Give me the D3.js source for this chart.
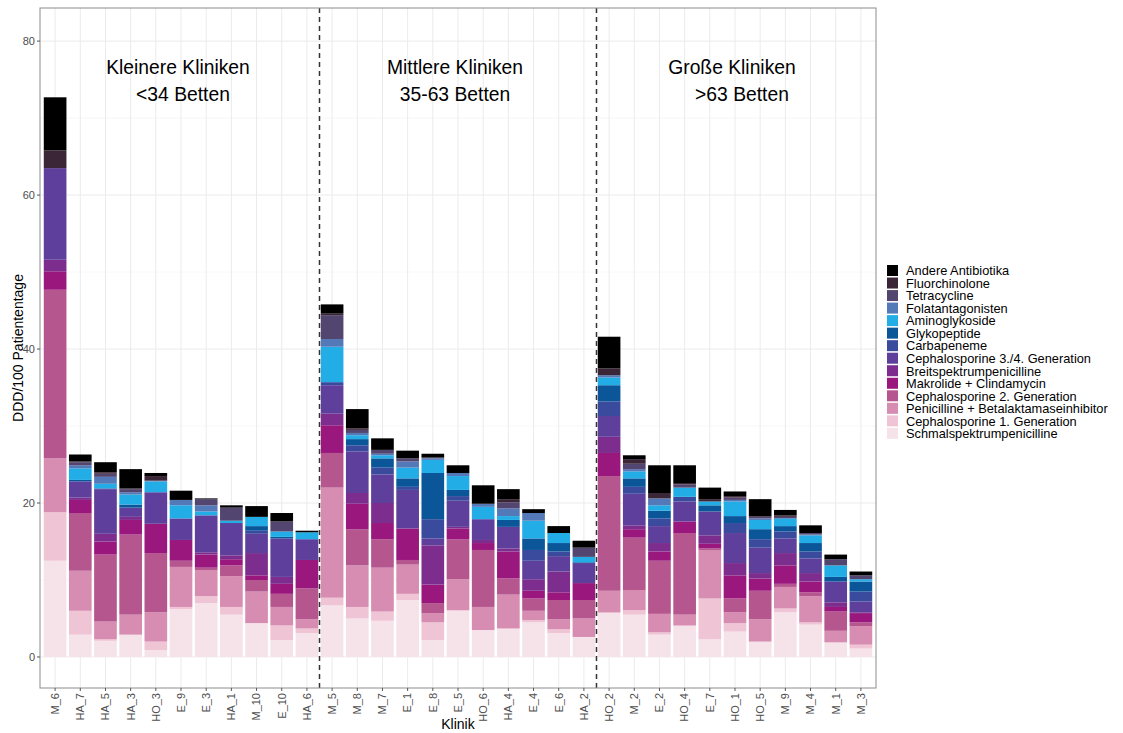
<!DOCTYPE html>
<html>
<head>
<meta charset="utf-8">
<script src="https://cdn.jsdelivr.net/npm/d3@7"></script>
<style>
  html, body { margin: 0; padding: 0; background: #fff; }
  svg { display: block; font-family: "Liberation Sans", Arial, sans-serif; }
</style>
</head>
<body>
<div id="app"></div>
<script>
// Kliniken in Reihenfolge der x-Achse
const clinics = ["M_6","HA_7","HA_5","HA_3","HO_3","E_9","E_3","HA_1","M_10","E_10","HA_6",
  "M_5","M_8","M_7","E_1","E_8","E_5","HO_6","HA_4","E_4","E_6","HA_2",
  "HO_2","M_2","E_2","HO_4","E_7","HO_1","HO_5","M_9","M_4","M_1","M_3"];

// Substanzklassen, von unten nach oben gestapelt
const categories = ["Schmalspektrumpenicilline","Cephalosporine 1. Generation","Penicilline + Betalaktamaseinhibitor",
  "Cephalosporine 2. Generation","Makrolide + Clindamycin","Breitspektrumpenicilline",
  "Cephalosporine 3./4. Generation","Carbapeneme","Glykopeptide","Aminoglykoside",
  "Folatantagonisten","Tetracycline","Fluorchinolone","Andere Antibiotika"];

const colors = ["#f6e3ea","#efc4d4","#d78cb2","#b5568f","#9a187e","#7c2d8d",
  "#5e3f9b","#3a4b9e","#0b5599","#22ade7","#5479b8","#524670","#3b2637","#000000"];

// DDD/100 Patiententage je Klasse (gleiche Reihenfolge wie clinics)
const schmal = [12.5,2.9,2.1,2.9,0.9,6.2,7.0,5.5,4.4,2.2,3.1,6.7,5.0,4.7,7.4,2.2,6.0,3.5,3.7,4.5,3.1,2.6,5.7,5.5,2.9,4.0,2.3,3.3,2.0,5.8,4.2,1.9,1.1];
const ceph1  = [6.3,3.1,0.2,0,1.1,0.3,0.9,1.0,0,1.9,0.6,1.0,1.5,1.2,0.8,2.3,0.1,0,0,0.3,0.5,0,0.1,0.6,0.3,0.1,5.3,1.1,0,0.5,0.3,0,0.5];
const penBli = [7.0,5.2,2.3,2.6,3.8,5.2,3.4,4.0,4.1,2.4,1.2,14.3,5.4,5.7,3.8,1.2,4.0,3.0,4.4,1.2,1.3,2.4,2.8,2.6,2.4,1.4,6.3,1.4,2.9,2.8,3.4,1.5,2.4];
const ceph2  = [21.9,7.5,8.7,10.4,7.7,0.8,0.3,1.4,1.5,1.7,4.0,4.5,4.7,3.7,0.6,1.3,5.2,7.4,2.1,1.6,2.5,2.4,14.9,6.8,6.9,10.6,0.2,1.8,3.7,0.4,0.5,2.5,0.5];
const makro  = [2.4,1.7,1.7,1.9,3.8,2.7,1.7,0.8,0.6,1.3,3.7,3.6,3.3,2.1,4.1,2.4,1.4,0.9,3.5,1.0,1.0,2.2,3.0,1.1,1.2,1.5,0.6,3.0,1.6,2.4,1.4,0.6,1.2];
const breit  = [1.5,0.3,1.0,0.4,0,0,0.3,0.5,2.9,0.9,0,1.5,1.4,2.6,0,5.1,0.2,0.4,0.4,1.5,2.7,0,2.1,0.5,1.1,0,1.1,1.6,0.7,1.6,1.1,0.6,0.1];
const ceph34 = [11.9,2.1,5.8,1.2,4.1,2.8,4.8,4.2,2.5,5.0,2.7,3.7,5.4,3.7,5.0,0.9,3.4,2.7,2.8,2.4,2.0,2.6,2.7,4.1,2.2,2.6,3.1,3.9,3.3,1.9,1.9,2.7,1.4];
const carba  = [0,0,0.1,0,0,0,0,0,0.4,0,0,0.4,0.8,0.9,0.4,2.5,0.6,0,0,1.4,0.6,0,1.9,0.9,1.0,0.6,0,1.3,1.1,0.9,0.9,0,1.3];
const glyko  = [0,0.2,0,0.4,0,0,0,0,0.6,0.2,0,0,0.8,1.2,1.1,6.0,0.8,0,0.9,1.5,1.1,0.1,2.1,1.1,1.0,0,0.8,0.9,1.3,0.7,1.1,0.6,1.3];
const amino  = [0,1.5,0.6,1.3,1.4,1.7,0.5,0.3,1.2,0.7,0.9,4.6,0.5,0.4,1.4,1.7,1.8,1.6,0.5,2.3,1.3,0.7,1.0,0.9,0.7,1.2,0.5,1.9,1.2,1.0,1.0,1.5,0.3];
const folat  = [0,0.4,0.9,0.3,0.1,0.7,0.8,0,0,0,0,1.0,0.3,0.2,0.8,0.2,0.4,0.4,1.0,1.0,0,0,0.3,0.3,0.9,0,0,0.2,0.2,0,0.1,0,0];
const tetra  = [0,0.4,0.4,0.4,0,0,0.8,1.7,0,1.3,0,3.1,0.4,0.5,0.4,0.1,0,0,0.8,0,0,1.2,0,0.7,0,0.4,0,0.3,0.2,0.2,0.2,0.8,0.5];
const fluor  = [2.3,0.1,0.2,0.1,0.6,0,0,0,0,0,0,0.2,0.2,0,0,0,0,0,0.4,0,0,0,0.9,0.6,0.7,0.2,0.3,0.2,0.1,0.2,0,0,0];
const andere = [6.9,0.9,1.3,2.5,0.4,1.2,0.1,0.3,1.4,1.1,0.2,1.2,2.5,1.5,1.0,0.5,1.0,2.4,1.3,0.5,0.9,0.9,4.1,0.5,3.6,2.3,1.5,0.6,2.2,0.7,1.0,0.6,0.5];

const seriesValues = [schmal, ceph1, penBli, ceph2, makro, breit, ceph34, carba, glyko, amino, folat, tetra, fluor, andere];

// Gruppen: erste/letzte Klinik jeder Gruppe und Beschriftung
const groupTitles = ["Kleinere Kliniken", "Mittlere Kliniken", "Große Kliniken"];
const groupBeds = ["<34 Betten", "35-63 Betten", ">63 Betten"];
const groupFirst = ["M_6", "M_5", "HO_2"];
const groupLast = ["HA_6", "HA_2", "M_3"];

const yTicks = [0, 20, 40, 60, 80];

const width = 1123, height = 733;
const panel = { left: 40, right: 876, top: 8, bottom: 688 };

const svg = d3.select("#app").append("svg")
  .attr("width", width)
  .attr("height", height);

svg.append("rect").attr("width", width).attr("height", height).attr("fill", "#fff");

// Tabelle für d3.stack bauen
const rows = clinics.map((k, i) => {
  const r = { klinik: k };
  categories.forEach((c, j) => { r[c] = seriesValues[j][i]; });
  return r;
});
const stacked = d3.stack().keys(categories)(rows);

const x = d3.scaleBand()
  .domain(clinics)
  .range([panel.left, panel.right])
  .paddingInner(0.1)
  .paddingOuter(0.15);

const y = d3.scaleLinear()
  .domain([-4.03, 84.3])
  .range([panel.bottom, panel.top]);

const color = d3.scaleOrdinal().domain(categories).range(colors);

// Gitterlinien
const grid = svg.append("g");
grid.selectAll("line.minor")
  .data([10, 30, 50, 70])
  .join("line")
  .attr("x1", panel.left).attr("x2", panel.right)
  .attr("y1", d => y(d)).attr("y2", d => y(d))
  .attr("stroke", "#f2f2f2").attr("stroke-width", 0.6);
grid.selectAll("line.major")
  .data(yTicks)
  .join("line")
  .attr("x1", panel.left).attr("x2", panel.right)
  .attr("y1", d => y(d)).attr("y2", d => y(d))
  .attr("stroke", "#ebebeb").attr("stroke-width", 1);
grid.selectAll("line.vert")
  .data(clinics)
  .join("line")
  .attr("x1", d => x(d) + x.bandwidth() / 2).attr("x2", d => x(d) + x.bandwidth() / 2)
  .attr("y1", panel.top).attr("y2", panel.bottom)
  .attr("stroke", "#ebebeb").attr("stroke-width", 1);

// Gestapelte Balken
svg.append("g")
  .selectAll("g")
  .data(stacked)
  .join("g")
  .attr("fill", d => color(d.key))
  .selectAll("rect")
  .data(d => d)
  .join("rect")
  .attr("x", d => x(d.data.klinik))
  .attr("width", x.bandwidth())
  .attr("y", d => y(d[1]))
  .attr("height", d => Math.max(0, y(d[0]) - y(d[1])));

// Trennlinien zwischen den Gruppen
const step = x.step();
svg.append("g")
  .selectAll("line")
  .data(groupLast.slice(0, 2))
  .join("line")
  .attr("x1", d => x(d) + x.bandwidth() / 2 + step / 2)
  .attr("x2", d => x(d) + x.bandwidth() / 2 + step / 2)
  .attr("y1", panel.top).attr("y2", panel.bottom)
  .attr("stroke", "#333").attr("stroke-width", 1.5)
  .attr("stroke-dasharray", "5,4");

// Gruppenbeschriftung
const groupCenter = i => {
  const a = x(groupFirst[i]), b = x(groupLast[i]) + x.bandwidth();
  return (a + b) / 2;
};
const line2Shift = [5, 0, 10];
const ann = svg.append("g").attr("font-size", "19.3px").attr("fill", "#000").attr("text-anchor", "middle");
groupTitles.forEach((t, i) => {
  ann.append("text").attr("x", groupCenter(i) - 3).attr("y", y(75.7)).text(t);
  ann.append("text").attr("x", groupCenter(i) - 3 + line2Shift[i]).attr("y", y(72.2)).text(groupBeds[i]);
});

// Rahmen
svg.append("rect")
  .attr("x", panel.left).attr("y", panel.top)
  .attr("width", panel.right - panel.left).attr("height", panel.bottom - panel.top)
  .attr("fill", "none").attr("stroke", "#8c8c8c").attr("stroke-width", 1);

// y-Achse
const yAxis = svg.append("g");
yAxis.selectAll("line")
  .data(yTicks)
  .join("line")
  .attr("x1", panel.left - 3).attr("x2", panel.left)
  .attr("y1", d => y(d)).attr("y2", d => y(d))
  .attr("stroke", "#555");
yAxis.selectAll("text")
  .data(yTicks)
  .join("text")
  .attr("x", panel.left - 5)
  .attr("y", d => y(d))
  .attr("dy", "0.35em")
  .attr("text-anchor", "end")
  .attr("font-size", "11px")
  .attr("fill", "#4d4d4d")
  .text(d => d);

// x-Achse
const xAxis = svg.append("g");
xAxis.selectAll("line")
  .data(clinics)
  .join("line")
  .attr("x1", d => x(d) + x.bandwidth() / 2).attr("x2", d => x(d) + x.bandwidth() / 2)
  .attr("y1", panel.bottom).attr("y2", panel.bottom + 3)
  .attr("stroke", "#555");
xAxis.selectAll("text")
  .data(clinics)
  .join("text")
  .attr("transform", d => `translate(${x(d) + x.bandwidth() / 2},${panel.bottom + 5}) rotate(-90)`)
  .attr("dy", "0.35em")
  .attr("text-anchor", "end")
  .attr("font-size", "11px")
  .attr("fill", "#4d4d4d")
  .text(d => d);

// Achsentitel
svg.append("text")
  .attr("x", (panel.left + panel.right) / 2)
  .attr("y", 729)
  .attr("text-anchor", "middle")
  .attr("font-size", "14px")
  .text("Klinik");
svg.append("text")
  .attr("transform", `translate(18,${(panel.top + panel.bottom) / 2}) rotate(-90)`)
  .attr("dy", "0.35em")
  .attr("text-anchor", "middle")
  .attr("font-size", "14px")
  .text("DDD/100 Patiententage");

// Legende (oben "Andere Antibiotika")
const legendItems = categories.slice().reverse();
const legend = svg.append("g").attr("transform", "translate(887,265)");
const li = legend.selectAll("g")
  .data(legendItems)
  .join("g")
  .attr("transform", (d, i) => `translate(0,${i * 12.53})`);
li.append("rect")
  .attr("width", 11).attr("height", 11)
  .attr("fill", d => color(d));
li.append("text")
  .attr("x", 19).attr("y", 5.8)
  .attr("dy", "0.35em")
  .attr("font-size", "12.8px")
  .text(d => d);
</script>
</body>
</html>
